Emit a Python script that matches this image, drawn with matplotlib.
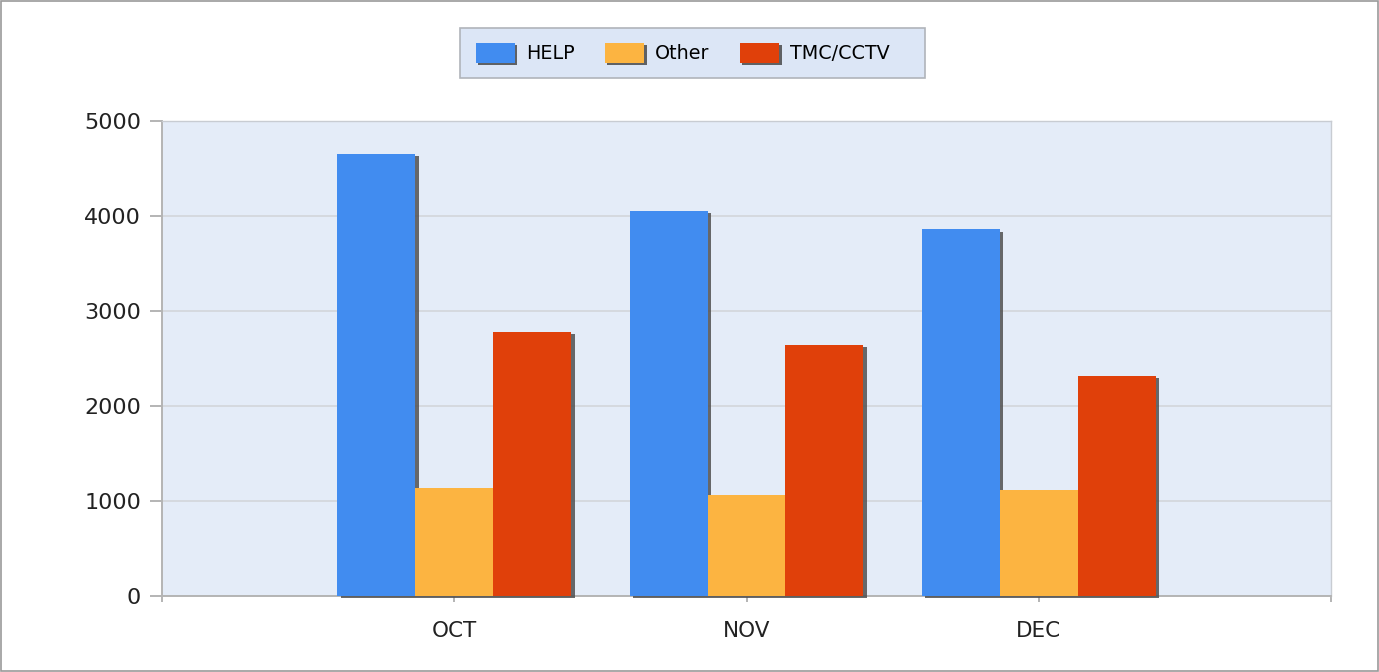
import matplotlib
matplotlib.use("Agg")
import matplotlib.pyplot as plt
import matplotlib.patheffects as pe
from matplotlib.patches import Rectangle
import numpy as np

categories = ["OCT", "NOV", "DEC"]
series_names = ["HELP", "Other", "TMC/CCTV"]
help_vals = [4650, 4050, 3860]
other_vals = [1140, 1060, 1120]
tmc_vals = [2780, 2640, 2320]
colors = ["#418CF0", "#FCB441", "#E0400A"]
yticks = [0, 1000, 2000, 3000, 4000, 5000]

plt.rcParams['font.family'] = ['DejaVu Sans']

W, H = 1379, 672
fig = plt.figure(figsize=(W / 100, H / 100), dpi=100)
fig.patch.set_facecolor("white")
fig.patches.append(Rectangle((0.0005, 0.001), 0.999, 0.998, transform=fig.transFigure,
                             fill=False, edgecolor="#9A9A9A", linewidth=1.2))
# legend box
fig.patches.append(Rectangle((460 / W, 1 - 78 / H), 465 / W, 50 / H, transform=fig.transFigure,
                             facecolor="#DCE6F6", edgecolor="#B0B4BA", linewidth=1.2))

ax = fig.add_axes([0.1175, 0.1131, 0.8477, 0.7068])
ax.set_facecolor("#E4ECF8")

x = np.arange(len(categories))
w = 0.8 / 3
shadow = [pe.SimplePatchShadow(offset=(2.4, -1.6), shadow_rgbFace="#505050", alpha=0.85), pe.Normal()]
for i, (vals, name, c) in enumerate(zip([help_vals, other_vals, tmc_vals], series_names, colors)):
    bars = ax.bar(x + (i - 1) * w, vals, width=w, color=c, label=name, zorder=3,
                  edgecolor="none")
    for b in bars:
        b.set_path_effects(shadow)
        b.set_clip_on(False)

ax.set_xlim(-1, 3)
ax.set_ylim(0, 5000)
ax.set_yticks(yticks)
ax.set_yticklabels([str(v) for v in yticks])
ax.set_xticks([-1, 0, 1, 2, 3])
ax.set_xticklabels([""] + categories + [""])
ax.grid(axis="y", color="#D3D6DA", linewidth=1.2, zorder=1)
ax.set_axisbelow(True)

for side in ["left", "bottom", "right", "top"]:
    ax.spines[side].set_color("#B4B4B4")
    ax.spines[side].set_linewidth(1.4)
ax.spines["top"].set_color("#C8CCD2")
ax.spines["right"].set_color("#C8CCD2")
ax.spines["top"].set_linewidth(1.0)
ax.spines["right"].set_linewidth(1.0)

ax.tick_params(axis="y", length=9, width=1.4, color="#B4B4B4", labelsize=16,
               labelcolor="#222222", pad=6)
ax.tick_params(axis="x", length=4, width=1.4, color="#B4B4B4", labelsize=15.5,
               labelcolor="#222222", pad=14)

leg = fig.legend(loc="center left", bbox_to_anchor=(476 / W, 1 - 53 / H), ncol=3, frameon=False,
                 fontsize=13.8, handlelength=2.05, handleheight=1.2, handletextpad=0.55,
                 columnspacing=1.6, borderpad=0, borderaxespad=0)
for h in leg.legend_handles:
    h.set_path_effects([pe.SimplePatchShadow(offset=(1.5, -1.5), shadow_rgbFace="#404040", alpha=0.8), pe.Normal()])

fig.savefig("out.png", dpi=100)
